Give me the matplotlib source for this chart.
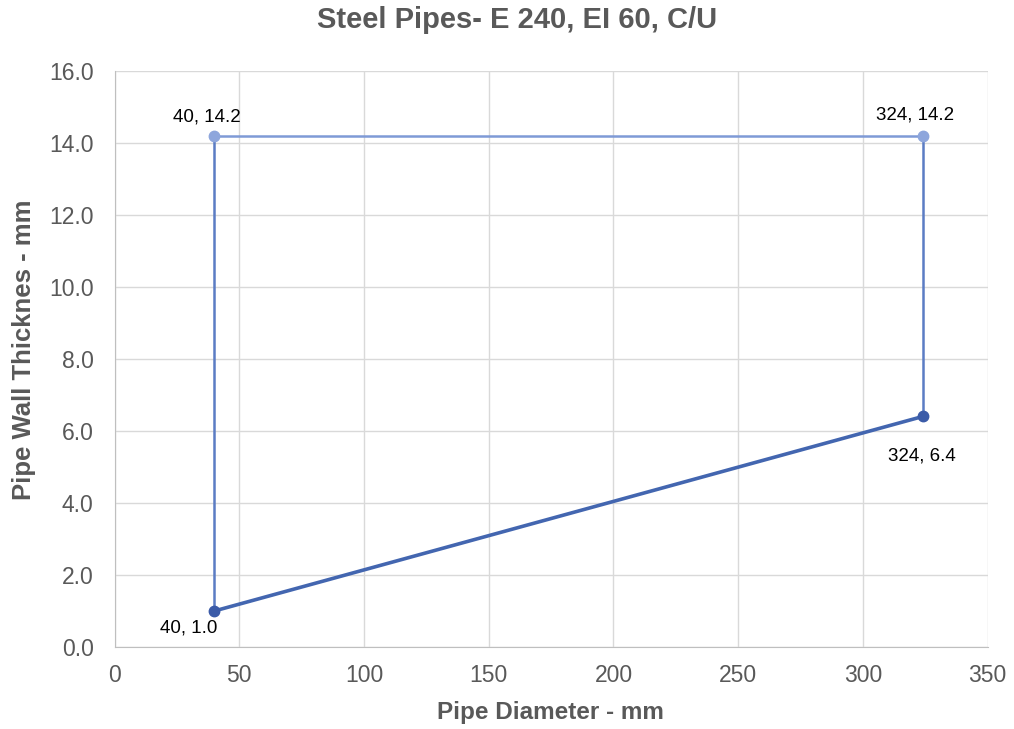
import matplotlib.pyplot as plt

plt.rcParams['font.family'] = ['Liberation Sans', 'DejaVu Sans']

# data
diameter = [40, 324]
thick_min = [1.0, 6.4]
thick_max = [14.2, 14.2]

grey = '#595959'

fig = plt.figure(figsize=(10.14, 7.29), dpi=100)
ax = fig.add_axes([0.113, 0.1125, 0.861, 0.7905])

# outline of the envelope
ax.plot([diameter[0], diameter[0]], [thick_min[0], thick_max[0]], color='#5b7cc4', lw=1.8, zorder=3)
ax.plot([diameter[1], diameter[1]], [thick_min[1], thick_max[1]], color='#5b7cc4', lw=1.8, zorder=3)
ax.plot(diameter, thick_max, color='#7f9ad6', lw=1.8, marker='o', ms=7.5,
        markerfacecolor='#8ea6dc', markeredgecolor='#8ea6dc', zorder=4)
ax.plot(diameter, thick_min, color='#4366b0', lw=2.6, marker='o', ms=7.5,
        markerfacecolor='#3b5ba8', markeredgecolor='#3b5ba8', zorder=5)

# data labels
offsets_max = [(-7, 19), (-8, 21)]
offsets_min = [(-26, -17), (-1, -40)]
for x, y, off in zip(diameter, thick_max, offsets_max):
    ax.annotate(f'{x}, {y:.1f}', (x, y), xytext=off, textcoords='offset pixels',
                ha='center', va='center', fontsize=13.5, color='black')
for x, y, off in zip(diameter, thick_min, offsets_min):
    ax.annotate(f'{x}, {y:.1f}', (x, y), xytext=off, textcoords='offset pixels',
                ha='center', va='center', fontsize=13.5, color='black')

ax.set_xlim(0, 350)
ax.set_ylim(0, 16)
ax.set_xticks(range(0, 351, 50))
ax.set_yticks(range(0, 17, 2))
ax.set_yticklabels([f'{v:.1f}' for v in range(0, 17, 2)])
ax.grid(color='#d9d9d9', lw=1)
ax.set_axisbelow(True)
for s in ['top', 'right']:
    ax.spines[s].set_visible(False)
for s in ['left', 'bottom']:
    ax.spines[s].set_color('#bfbfbf')
ax.tick_params(length=0, labelsize=16.5, labelcolor=grey)
ax.tick_params(axis='x', pad=12)
ax.tick_params(axis='y', pad=15)

fig.text(0.5095, 1 - 20 / 729, 'Steel Pipes- E 240, EI 60, C/U', fontsize=21, fontweight='bold',
         color=grey, ha='center', va='center')
fig.text(550 / 1014, 1 - 712 / 729, 'Pipe Diameter - mm', fontsize=17.5, fontweight='bold',
         color=grey, ha='center', va='center')
fig.text(24 / 1014, 1 - 350 / 729, 'Pipe Wall Thicknes - mm', fontsize=18.5, fontweight='bold',
         color=grey, ha='center', va='center', rotation=90)

fig.savefig('out.png', dpi=100)
